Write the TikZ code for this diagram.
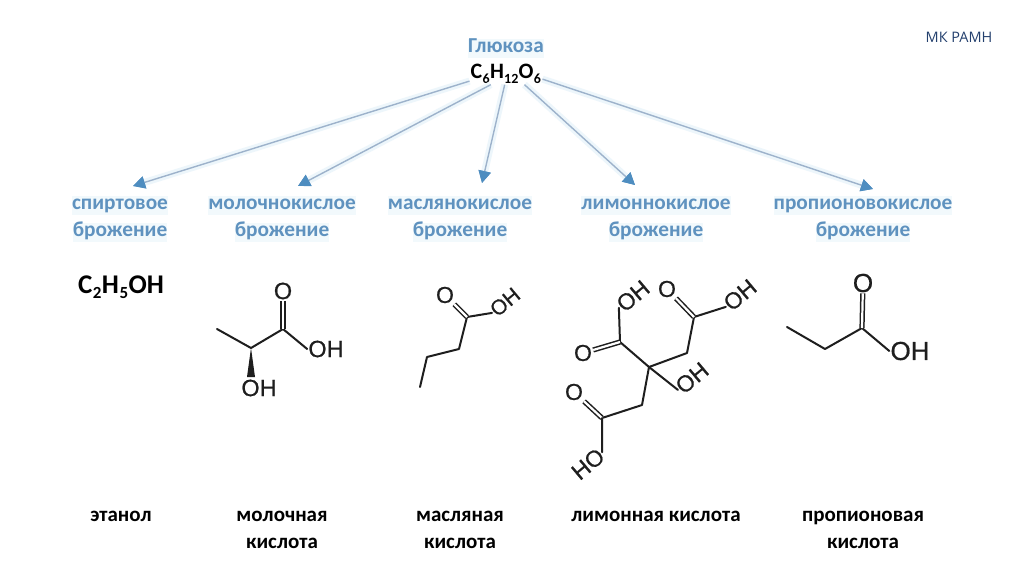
\documentclass[tikz,border=0pt]{standalone}
\usepackage{fontspec}
\setmainfont{Carlito}
\newfontfamily\chemfont[FakeBold=0.7]{Liberation Sans}
\newfontfamily\logofont{Open Sans}
\definecolor{labelblue}{HTML}{5F92BF}
\definecolor{linegray}{HTML}{9DB2CB}
\definecolor{headblue}{HTML}{4E8DC0}
\definecolor{halo}{HTML}{EDF6FB}
\definecolor{bondcol}{HTML}{1E1E1E}
\definecolor{logoblue}{HTML}{24406E}
\newcommand{\dnA}[1]{\kern.3pt\raisebox{-.2em}{\fontsize{14}{14}\selectfont #1}\kern.3pt}
\newcommand{\dnB}[1]{\kern.5pt\raisebox{-.2em}{\fontsize{17}{17}\selectfont #1}\kern.5pt}
\usetikzlibrary{arrows.meta}
\tikzset{
  x=1pt,y=-1pt,
  ferm/.style={text=labelblue,font=\fontsize{21.3}{21.3}\selectfont\bfseries,inner sep=0pt,
     text height=14pt,text depth=5pt,fill=halo!70},
  name2/.style={text=black,font=\fontsize{21}{21}\selectfont\bfseries,inner sep=0pt,
     text height=14pt,text depth=5pt},
  formula/.style={text=black,font=\fontsize{22}{22}\selectfont\bfseries,inner sep=1pt},
  flow/.style={draw=linegray,line width=1.4pt,preaction={draw=halo,line width=7pt},
     -{Triangle[length=12pt,width=12pt,color=headblue]}},
  atomL/.style={text=bondcol,font=\fontsize{23.5}{23.5}\selectfont\chemfont,inner sep=1pt},
  atomM/.style={text=bondcol,font=\fontsize{23}{23}\selectfont\chemfont,inner sep=1pt},
  atomB/.style={text=bondcol,font=\fontsize{26}{26}\selectfont\chemfont,inner sep=1pt},
  bond/.style={draw=bondcol,line width=2pt,line cap=round,line join=round},
  dbond/.style={draw=bondcol,line width=1.5pt,double=white,double distance=2.2pt},
}
\begin{document}
\begin{tikzpicture}
\useasboundingbox[fill=white] (0,0) rectangle (1024,574);

\node[text=logoblue,font=\fontsize{14.5}{14.5}\selectfont\logofont,inner sep=0pt] (logo) at (959,37) {МК РАМН};

% glucose
\node[ferm] (gl) at (506,48) {Глюкоза};
\node[formula] (f) at (506,74) {C\dnA{6}H\dnA{12}O\dnA{6}};

% labels
\node[ferm] (s1a) at (120,205) {спиртовое};
\node[ferm] (s1b) at (120,232) {брожение};
\node[ferm] (s2a) at (282,205) {молочнокислое};
\node[ferm] (s2b) at (282,232) {брожение};
\node[ferm] (s3a) at (460,205) {маслянокислое};
\node[ferm] (s3b) at (460,232) {брожение};
\node[ferm] (s4a) at (656,205) {лимоннокислое};
\node[ferm] (s4b) at (656,232) {брожение};
\node[ferm] (s5a) at (863,205) {пропионовокислое};
\node[ferm] (s5b) at (863,232) {брожение};

% arrows
\coordinate (a1) at (133,186);
\coordinate (a2) at (298,186);
\coordinate (a3) at (482,183);
\coordinate (a4) at (635,185);
\coordinate (a5) at (873,189);
\draw[flow] (f.191) -- (a1);
\draw[flow] (f.215) -- (a2);
\draw[flow] (f.263) -- (a3);
\draw[flow] (f.-30) -- (a4);
\draw[flow] (f.-8) -- (a5);

% ethanol
\node[formula,font=\fontsize{27}{27}\selectfont\bfseries] (eth) at (121,287) {C\dnB{2}H\dnB{5}OH};

% lactic acid
\coordinate (l1) at (217,329);
\coordinate (l2) at (251,348);
\coordinate (l3) at (283,329);
\node[atomL] (lO) at (283,291) {O};
\node[atomL] (lOH) at (326,349) {OH};
\node[atomL] (lOH2) at (259,388) {OH};
\coordinate (lw1) at (247,377);
\coordinate (lw2) at (255,377);
\draw[bond] (l1) -- (l2) -- (l3);
\draw[bond] (l3) -- (lOH.west);
\draw[dbond] (l3) -- (lO);
\fill[bondcol] (l2) -- (lw1) -- (lw2) -- cycle;

% butyric acid
\coordinate (b1) at (420,387);
\coordinate (b2) at (427,357);
\coordinate (b3) at (459,349);
\coordinate (b4) at (467,317);
\node[atomM] (bO) at (445,295) {O};
\node[atomM,rotate=40,font=\fontsize{21}{21}\selectfont\chemfont] (bOH) at (505,302) {OH};
\draw[bond] (b1) -- (b2) -- (b3) -- (b4);
\draw[bond] (b4) -- (bOH.west);
\draw[dbond] (b4) -- (bO);

% citric acid
\coordinate (c0) at (649,367);
\coordinate (c1) at (620,342);
\node[atomM] (cO1) at (583,353) {O};
\node[atomM,rotate=40] (cOH1) at (633,296) {OH};
\coordinate (c2) at (687,353);
\coordinate (c3) at (694,317);
\node[atomM] (cO2) at (667,289) {O};
\node[atomM,rotate=40] (cOH2) at (740,295) {OH};
\node[atomM,rotate=40] (cOH3) at (692,378) {OH};
\coordinate (c4) at (642,405);
\coordinate (c5) at (602,418);
\node[atomM] (cO3) at (574,392) {O};
\node[atomM,rotate=-140] (cOH4) at (588,464) {\rotatebox{180}{HO}};
\draw[bond] (c0) -- (c1);
\draw[bond] (c1) -- (cOH1.west);
\draw[dbond] (c1) -- (cO1);
\draw[bond] (c0) -- (c2) -- (c3);
\draw[bond] (c3) -- (cOH2.west);
\draw[dbond] (c3) -- (cO2);
\draw[bond] (c0) -- (cOH3.west);
\draw[bond] (c0) -- (c4) -- (c5);
\draw[dbond] (c5) -- (cO3);
\draw[bond] (c5) -- (cOH4.west);

% propionic acid
\coordinate (p1) at (787,327);
\coordinate (p2) at (825,349);
\coordinate (p3) at (862,328);
\node[atomB] (pO) at (863,283) {O};
\node[atomB] (pOH) at (910,351) {OH};
\draw[bond] (p1) -- (p2) -- (p3);
\draw[bond] (p3) -- (pOH.west);
\draw[dbond] (p3) -- (pO);

% names
\node[name2] (n1) at (121,517) {этанол};
\node[name2] (n2a) at (282,517) {молочная};
\node[name2] (n2b) at (282,544) {кислота};
\node[name2] (n3a) at (460,517) {масляная};
\node[name2] (n3b) at (460,544) {кислота};
\node[name2] (n4) at (656,517) {лимонная кислота};
\node[name2] (n5a) at (863,517) {пропионовая};
\node[name2] (n5b) at (863,544) {кислота};
\end{tikzpicture}
\end{document}
